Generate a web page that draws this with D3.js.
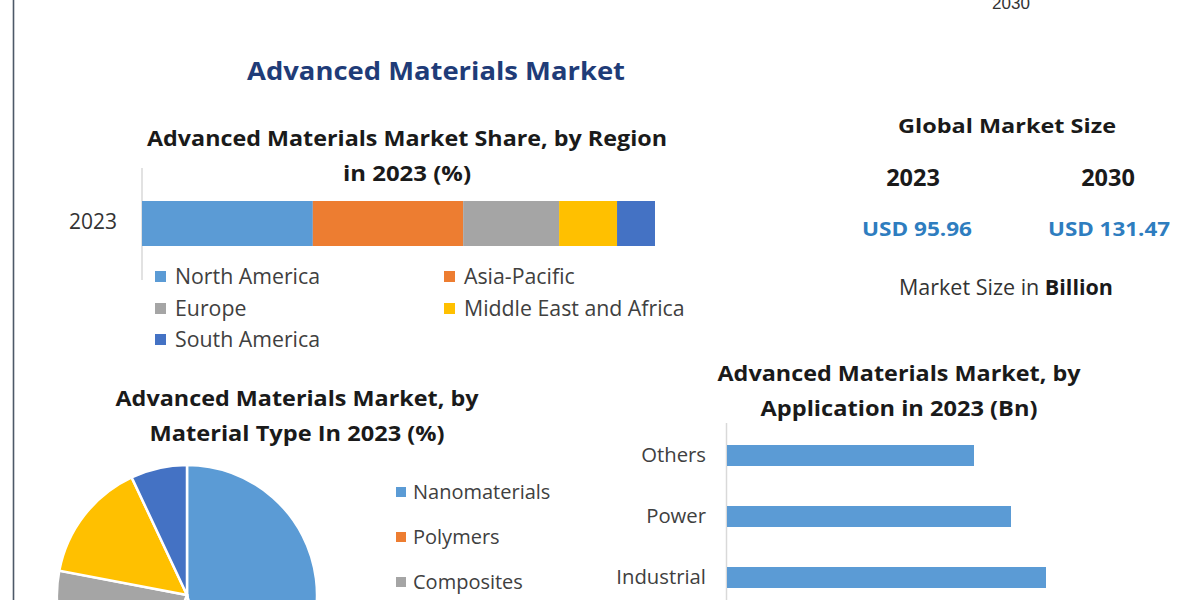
<!DOCTYPE html>
<html><head><meta charset="utf-8">
<script src="https://cdn.jsdelivr.net/npm/d3@7"></script>
<style>
html,body{margin:0;padding:0;background:#fff;overflow:hidden}
svg{display:block;font-family:"Open Sans",sans-serif}
</style></head>
<body>
<svg id="chart" width="1200" height="600"></svg>
<script>
// ---- data ----
const regions = ["North America","Asia-Pacific","Europe","Middle East and Africa","South America"];
const regionShare = [33.3, 29.3, 18.7, 11.3, 7.4];
const regionYear = "2023";

const materials = ["Nanomaterials","Polymers","Composites","Ceramics","Others"];
const materialShare = [46, 10, 22, 15, 7];

const applications = ["Others","Power","Industrial"];
const applicationValues = [24.7, 28.4, 31.9];

const marketYears = ["2023","2030"];
const marketValues = ["USD 95.96","USD 131.47"];

const palette = ["#5b9bd5","#ed7d31","#a5a5a5","#ffc000","#4472c4"];

// ---- drawing ----
const svg = d3.select("#chart");

// left border line
svg.append("line").attr("x1",13.5).attr("x2",13.5).attr("y1",0).attr("y2",600)
  .attr("stroke","#4d5968").attr("stroke-width",1.6);

function txt(x,y,s,size,opt={}){
  const t = svg.append("text").attr("x",x).attr("y",y)
    .attr("font-size",size).attr("text-anchor",opt.anchor||"middle")
    .attr("font-weight",opt.weight||"normal").attr("fill",opt.fill||"#1a1a1a")
    .text(s);
  if(opt.len) t.attr("textLength",opt.len).attr("lengthAdjust","spacingAndGlyphs");
  if(opt.family) t.attr("font-family",opt.family);
  return t;
}

// cut-off top label
txt(1011,9,"2030",17,{fill:"#333",family:"Liberation Sans Narrow, Liberation Sans, sans-serif"});

// main title
txt(436,80,"Advanced Materials Market",25,{weight:"bold",fill:"#1f3c78",len:378});

// region subtitle
txt(407,146,"Advanced Materials Market Share, by Region",21,{weight:"bold",len:520});
txt(407,181,"in 2023 (%)",21,{weight:"bold",len:128});

// stacked bar
const xs = d3.scaleLinear().domain([0,100]).range([142,655]);
let cum = 0;
const stack = regionShare.map((v,i)=>{const d={name:regions[i],x0:cum,x1:cum+v,i}; cum+=v; return d;});
svg.append("line").attr("x1",142).attr("x2",142).attr("y1",168).attr("y2",280)
  .attr("stroke","#d9d9d9").attr("stroke-width",1.5);
svg.selectAll("rect.stk").data(stack).join("rect").attr("class","stk")
  .attr("x",d=>xs(d.x0)).attr("width",d=>xs(d.x1)-xs(d.x0))
  .attr("y",201).attr("height",45).attr("fill",d=>palette[d.i]);
txt(93,229,regionYear,21,{fill:"#333"});

// region legend
const legPos = [[155,277],[444,277],[155,309],[444,309],[155,340]];
regions.forEach((r,i)=>{
  const [x,y] = legPos[i];
  svg.append("rect").attr("x",x).attr("y",y-6).attr("width",11).attr("height",11).attr("fill",palette[i]);
  txt(x+20,y+7,r,21.3,{anchor:"start",fill:"#404040"});
});

// global market size
txt(1007,133,"Global Market Size",20,{weight:"bold",len:218});
const mkX = [913,1108];
marketYears.forEach((y,i)=>{
  txt(mkX[i],186,y,23.5,{weight:"bold"});
  txt(mkX[i]+ (i?1:4),236,marketValues[i],19,{weight:"bold",fill:"#2e7dbf",len: i?122:110});
});
const ms = svg.append("text").attr("x",1006).attr("y",295).attr("text-anchor","middle")
  .attr("font-size",21.5).attr("fill","#333");
ms.append("tspan").text("Market Size in ");
ms.append("tspan").attr("font-weight","bold").attr("fill","#1a1a1a").text("Billion");

// material subtitle
txt(297,406,"Advanced Materials Market, by",21,{weight:"bold",len:363});
txt(297,441,"Material Type In 2023 (%)",21,{weight:"bold",len:295});

// pie
const pie = d3.pie().sort(null).value(d=>d)(materialShare);
const arc = d3.arc().innerRadius(0).outerRadius(130);
svg.append("g").attr("transform","translate(187,595)")
  .selectAll("path").data(pie).join("path")
  .attr("d",arc).attr("fill",(d,i)=>palette[i])
  .attr("stroke","#fff").attr("stroke-width",2.5);

// material legend (entries below the picture edge are not drawn)
materials.forEach((m,i)=>{
  const y = 492 + i*45;
  if (y > 600) return;
  svg.append("rect").attr("x",396).attr("y",y-5).attr("width",10).attr("height",10).attr("fill",palette[i]);
  txt(413,y+7,m,20,{anchor:"start",fill:"#404040"});
});

// application subtitle
txt(899,381,"Advanced Materials Market, by",21,{weight:"bold",len:363});
txt(899,416,"Application in 2023 (Bn)",21,{weight:"bold",len:277});

// application bars
const xa = d3.scaleLinear().domain([0,40]).range([727,1127]);
const ya = d3.scaleBand().domain(applications).range([425,608]).paddingInner(0.656).paddingOuter(0.328);
svg.append("line").attr("x1",726.5).attr("x2",726.5).attr("y1",423).attr("y2",600)
  .attr("stroke","#d9d9d9").attr("stroke-width",1.5);
svg.selectAll("rect.app").data(applications).join("rect").attr("class","app")
  .attr("x",xa(0)).attr("y",d=>ya(d)).attr("width",(d,i)=>xa(applicationValues[i])-xa(0))
  .attr("height",ya.bandwidth()).attr("fill","#5b9bd5");
const yAxis = d3.axisLeft(ya).tickSize(0).tickPadding(20);
const ag = svg.append("g").attr("transform","translate(726,0)").call(yAxis);
ag.select(".domain").remove();
ag.selectAll("text").attr("font-size",20.3).attr("fill","#404040").attr("font-family","Open Sans, sans-serif");
</script>
</body></html>
